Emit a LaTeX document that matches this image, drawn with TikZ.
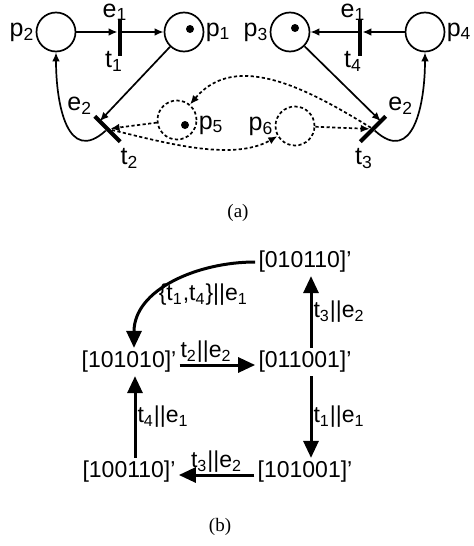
\documentclass[tikz,border=0pt]{standalone}
\usepackage{fontspec}
\setmainfont{Liberation Sans}
\newfontfamily\capfont{Liberation Serif}
\usetikzlibrary{arrows.meta, positioning, calc}
\newcommand\colL{129}
\newcommand\colR{305}

\begin{document}
\begin{tikzpicture}[x=0.5pt, y=0.5pt,
    place/.style={circle, draw, line width=0.85pt, minimum size=19.5pt, inner sep=0pt},
    dplace/.style={place, dash pattern=on 1.6pt off 1.2pt},
    trans/.style={rectangle, fill, minimum width=2pt, minimum height=18pt, inner sep=0pt},
    token/.style={circle, fill, minimum size=4pt, inner sep=0pt},
    lbl/.style={font=\fontsize{12.5}{14}\selectfont, inner sep=0.5pt},
    flow/.style={line width=0.85pt, -{Latex[length=4.5pt, width=3.8pt]}},
    dflow/.style={flow, dash pattern=on 1.6pt off 1.2pt},
    state/.style={font=\fontsize{11.5}{13}\selectfont, inner sep=1.5pt},
    move/.style={line width=1.5pt, -{Triangle[length=8.5pt, width=7.5pt]}},
    mlbl/.style={font=\fontsize{11.5}{13}\selectfont, inner sep=0.5pt}]

    \useasboundingbox (0,0) rectangle (473,-546);

    % Net, left half
    \node at (56, -32) [place] (p2) {};
    \node at (120, -37.5) [trans] (t1) {};
    \node at (184, -32) [place] (p1) {};
    \node at (190, -29) [token] (k1) {};
    \node at (107.5, -129) [trans, rotate=45] (t2) {};
    \node at (177, -120) [dplace] (p5) {};
    \node at (185, -125) [token] (k5) {};

    \node at (p2.west) [lbl, anchor=east] (n2) {p\textsubscript{2}};
    \node at (p1.east) [lbl, anchor=west] (n1) {p\textsubscript{1}};
    \node at (p5.east) [lbl, anchor=west, yshift=-2.5pt] (n5) {p\textsubscript{5}};
    \node at (t1.north) [lbl, anchor=south, xshift=-2.5pt, yshift=-1.6pt] (e1a) {e\textsubscript{1}};
    \node at (t1.south) [lbl, anchor=north, xshift=-3pt, yshift=3pt] (m1) {t\textsubscript{1}};
    \node at (t2.north) [lbl, anchor=south east, xshift=-0.5pt] (e2a) {e\textsubscript{2}};
    \node at (t2.south) [lbl, anchor=north, xshift=4.5pt, yshift=-2.5pt] (m2) {t\textsubscript{2}};

    \coordinate (t2in) at ($(t2.center)!0.6!(t2.north)$);
    \draw[flow] (p2.east) -- (t1.west |- p2);
    \draw[flow] (t1.east |- p1) -- (p1.west);
    \draw[flow] (p1) -- (t2in);
    \draw[flow] (t2) to[out=220, in=-90, looseness=1.4] (p2);
    \draw[dflow] (p5) -- (t2);

    % Net, right half
    \node at (290, -32) [place] (p3) {};
    \node at (295, -28) [token] (k3) {};
    \node at (360, -37.5) [trans] (t4) {};
    \node at (425, -32) [place] (p4) {};
    \node at (373, -129) [trans, rotate=-45] (t3) {};
    \node at (295, -126) [dplace] (p6) {};

    \node at (p3.west) [lbl, anchor=east] (n3) {p\textsubscript{3}};
    \node at (p4.east) [lbl, anchor=west] (n4) {p\textsubscript{4}};
    \node at (p6.west) [lbl, anchor=east] (n6) {p\textsubscript{6}};
    \node at (t4.north) [lbl, anchor=south, xshift=-3.5pt, yshift=-1.6pt] (e1b) {e\textsubscript{1}};
    \node at (t4.south) [lbl, anchor=north, xshift=-3.5pt, yshift=3pt] (m4) {t\textsubscript{4}};
    \node at (t3.north) [lbl, anchor=south west, xshift=0.5pt] (e2b) {e\textsubscript{2}};
    \node at (t3.south) [lbl, anchor=north, xshift=2pt, yshift=-2.5pt] (m3) {t\textsubscript{3}};

    \coordinate (t3in) at ($(t3.center)!0.6!(t3.north)$);
    \draw[flow] (p4.west) -- (t4.east |- p4);
    \draw[flow] (t4.west |- p3) -- (p3.east);
    \draw[flow] (p3) -- (t3in);
    \draw[flow] (t3) to[out=-40, in=-90, looseness=1.4] (p4);
    \draw[dflow] (p6) -- (t3);

    % shared places
    \draw[dflow] (t2) to[out=-15, in=210, looseness=0.8] (p6);
    \draw[dflow] (t3) to[out=150, in=50] (p5);

    \node at (238, -213) [font=\capfont\fontsize{9.5}{11}\selectfont] (capa) {(a)};

    % Reachability graph
    \node at (\colR, -262) [state] (s1) {[010110]'};
    \node at (\colL, -362) [state] (s2) {[101010]'};
    \node at (\colR, -362) [state] (s3) {[011001]'};
    \node at (\colL, -472) [state] (s4) {[100110]'};
    \node at (\colR, -472) [state] (s5) {[101001]'};

    \draw[move] (s1.west) to[out=180, in=90]
        node[pos=0.3, below=6pt, mlbl] {\{t\textsubscript{1},t\textsubscript{4}\}||e\textsubscript{1}}
        ([xshift=2.5pt]s2.north);
    \draw[move] ([xshift=3pt]s3.north) -- ([xshift=3pt]s1.south)
        node[midway, right, mlbl] {t\textsubscript{3}||e\textsubscript{2}};
    \draw[move] ([yshift=-1.5pt]s2.east) -- ([yshift=-1.5pt]s3.west)
        node[pos=0.35, above, mlbl] {t\textsubscript{2}||e\textsubscript{2}};
    \draw[move] ([xshift=3pt]s3.south) -- ([xshift=3pt]s5.north)
        node[midway, right, mlbl] {t\textsubscript{1}||e\textsubscript{1}};
    \draw[move] ([xshift=3pt]s4.north) -- ([xshift=3pt]s2.south)
        node[midway, right, mlbl] {t\textsubscript{4}||e\textsubscript{1}};
    \draw[move] ([yshift=-1.5pt]s5.west) -- ([yshift=-1.5pt]s4.east)
        node[midway, above, mlbl] {t\textsubscript{3}||e\textsubscript{2}};

    \node at (220, -527) [font=\capfont\fontsize{9.5}{11}\selectfont] (capb) {(b)};

\end{tikzpicture}
\end{document}
